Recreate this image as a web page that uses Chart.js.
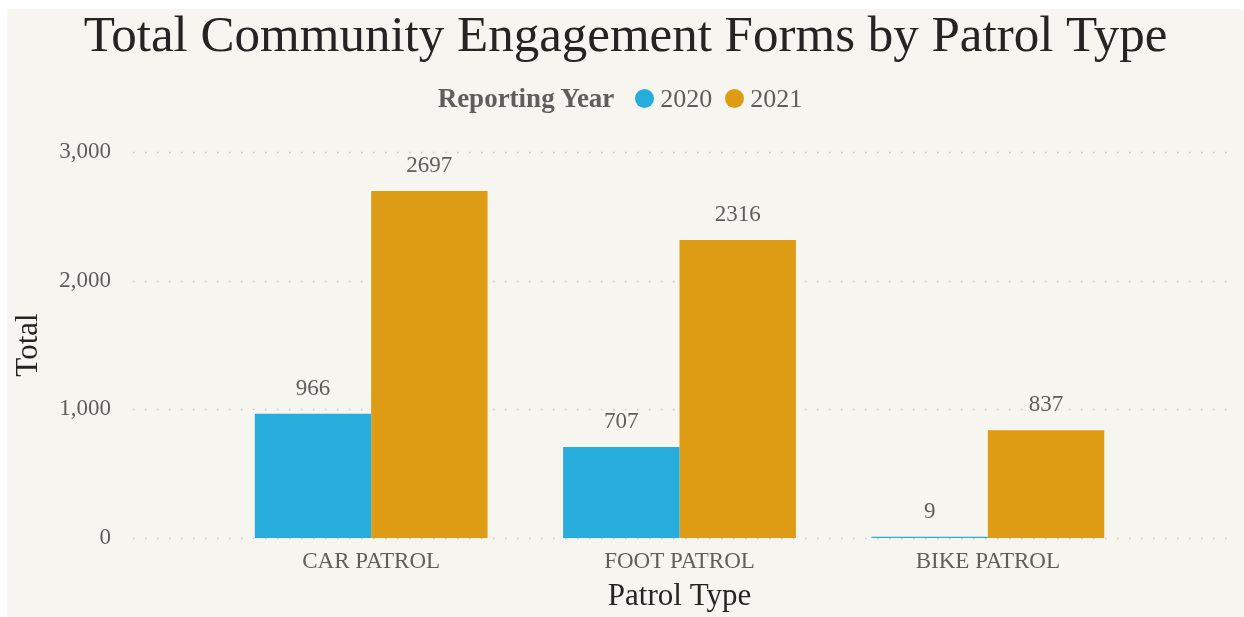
<!DOCTYPE html>
<html>
<head>
<meta charset="utf-8">
<title>Total Community Engagement Forms by Patrol Type</title>
<script src="https://cdn.jsdelivr.net/npm/chart.js@4/dist/chart.umd.min.js"></script>
<style>
  body { margin: 0; background: #ffffff; font-family: "Liberation Serif", serif; }
  #wrap { position: absolute; left: 7px; top: 9px; width: 1237px; height: 608px; background: #F7F5F0; }
  #legend { position: absolute; left: 0; width: 1226px; top: 74px; display: flex; justify-content: center; align-items: center; font-size: 26px; color: #605E5C; }
  #legend .ttl { font-weight: bold; font-size: 27px; margin-right: 21px; }
  #legend .dot { width: 19px; height: 19px; border-radius: 50%; margin-right: 6px; }
  #legend .lbl { margin-right: 13px; }
  #legend .lbl:last-child { margin-right: 0; }
</style>
</head>
<body>
<div id="wrap">
  <canvas id="patrolChart" width="1237" height="607"></canvas>
  <div id="legend"><span class="ttl">Reporting Year</span></div>
</div>
<script>
// dados
const patrolTypes = ["CAR PATROL", "FOOT PATROL", "BIKE PATROL"];
const years = ["2020", "2021"];
const forms2020 = [966, 707, 9];
const forms2021 = [2697, 2316, 837];
const yTicks = [0, 1000, 2000, 3000];
const barColors = ["#27ADDC", "#DE9C14"];

// linhas pontilhadas da grade (passam um pouco além da área das barras)
const dottedGrid = {
    id: 'dottedGrid',
    beforeDatasetsDraw(chart) {
        const ctx = chart.ctx;
        const area = chart.chartArea;
        const y = chart.scales.y;
        ctx.save();
        ctx.strokeStyle = "#C9C7C3";
        ctx.lineWidth = 1.5;
        ctx.setLineDash([1.5, 10.5]);
        yTicks.forEach(v => {
            const py = Math.round(y.getPixelForValue(v)) + 0.5;
            ctx.beginPath();
            ctx.moveTo(area.left - 84, py);
            ctx.lineTo(area.right + 93, py);
            ctx.stroke();
        });
        ctx.restore();
    }
};

// rótulos de valor em cima das barras
const valueLabels = {
    id: 'valueLabels',
    afterDatasetsDraw(chart) {
        const ctx = chart.ctx;
        ctx.save();
        ctx.font = "23px 'Liberation Serif'";
        ctx.fillStyle = "#605E5C";
        ctx.textAlign = "center";
        ctx.textBaseline = "middle";
        chart.data.datasets.forEach((ds, i) => {
            chart.getDatasetMeta(i).data.forEach((bar, j) => {
                ctx.fillText(String(ds.data[j]), bar.x, bar.y - 25);
            });
        });
        ctx.restore();
    }
};

function createChart() {
    const ctx = document.getElementById('patrolChart').getContext('2d');
    const series = [forms2020, forms2021];

    window.patrolChart = new Chart(ctx, {
        type: 'bar',
        data: {
            labels: patrolTypes,
            datasets: years.map((y, i) => ({
                label: y,
                data: series[i],
                backgroundColor: barColors[i],
                borderWidth: 0,
                categoryPercentage: 0.755,
                barPercentage: 1.0
            }))
        },
        options: {
            responsive: false,
            animation: false,
            devicePixelRatio: 1,
            layout: { padding: 0 },
            plugins: {
                legend: { display: false },
                tooltip: { enabled: false },
                title: {
                    display: true,
                    text: "Total Community Engagement Forms by Patrol Type",
                    color: "#252423",
                    font: { family: "Liberation Serif", size: 51, lineHeight: 1.0, weight: 'normal' },
                    padding: { top: 3, bottom: 89 }
                }
            },
            scales: {
                x: {
                    grid: { display: false, drawTicks: false },
                    border: { display: false },
                    ticks: { color: "#605E5C", font: { family: "Liberation Serif", size: 23 }, padding: 10, maxRotation: 0, minRotation: 0, autoSkip: false },
                    title: {
                        display: true,
                        text: "Patrol Type",
                        color: "#252423",
                        font: { family: "Liberation Serif", size: 31, lineHeight: 1.0 },
                        padding: { top: 0, bottom: 4 }
                    },
                    afterFit: (scale) => { scale.height = 78; }
                },
                y: {
                    min: 0,
                    max: 3000,
                    grid: { display: false, drawTicks: false },
                    border: { display: false },
                    ticks: { stepSize: 1000, color: "#605E5C", font: { family: "Liberation Serif", size: 23 }, padding: 106 },
                    title: {
                        display: true,
                        text: "Total",
                        color: "#252423",
                        font: { family: "Liberation Serif", size: 31, lineHeight: 1.2 },
                        padding: { top: 3, bottom: 12 }
                    },
                    // o padding grande dos ticks não deve empurrar a área do gráfico
                    afterFit: (scale) => {
                        scale.width = 210;
                        scale.paddingTop = 0;
                        scale.paddingBottom = 0;
                    }
                },
                // eixo vazio à direita, só para reservar o espaço
                yRight: {
                    position: 'right',
                    grid: { display: false, drawTicks: false },
                    border: { display: false },
                    ticks: { display: false },
                    afterFit: (scale) => {
                        scale.width = 102;
                        scale.paddingTop = 0;
                        scale.paddingBottom = 0;
                    }
                }
            }
        },
        plugins: [dottedGrid, valueLabels]
    });

    // legenda em html, com o título "Reporting Year" na mesma linha
    const legend = document.getElementById("legend");
    window.patrolChart.data.datasets.forEach(ds => {
        const dot = document.createElement("span");
        dot.className = "dot";
        dot.style.background = ds.backgroundColor;
        const lbl = document.createElement("span");
        lbl.className = "lbl";
        lbl.textContent = ds.label;
        legend.appendChild(dot);
        legend.appendChild(lbl);
    });
}

window.onload = createChart;
</script>
</body>
</html>
